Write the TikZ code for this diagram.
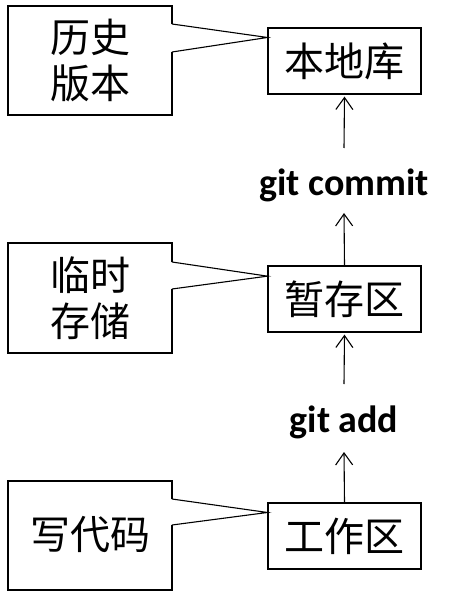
\documentclass[tikz,border=0pt]{standalone}
\usepackage{fontspec}
\setmainfont{Carlito}
\newfontfamily\cjk{Noto Sans CJK SC}
\usetikzlibrary{calc,arrows.meta}
\tikzset{
  stage/.style={draw=black, line width=1.2pt, minimum width=153pt, minimum height=66pt, inner sep=0pt, font=\cjk\fontsize{40}{46}\selectfont},
  note/.style={inner sep=0pt, align=center, font=\cjk\fontsize{40}{46}\selectfont},
  callout/.style={draw=black, line width=1.6pt, line join=miter},
  pointer/.style={draw=black, line width=1.1pt},
  lbl/.style={inner sep=0pt, outer sep=0pt, font=\bfseries\fontsize{38}{44}\selectfont},
  arr/.style={draw=black, line width=1.1pt, -{Straight Barb[length=12pt,width=17pt,line width=1.1pt]}}
}
\begin{document}
\begin{tikzpicture}[x=1pt,y=-1pt]
\useasboundingbox (0,0) rectangle (448,609);
% stages
\node[stage] (bdk) at (344.5,61) {本地库};
\node[stage] (zcq) at (344.5,299) {暂存区};
\node[stage] (gzq) at (344.5,536) {工作区};
% command labels
\node[lbl] (gc) at (344,185) {git commit};
\node[lbl] (ga) at (344,422) {git add};
% arrows
\draw[arr] (zcq.north) -- ($(gc.center)+(0,28)$);
\draw[arr] ($(gc.center)+(0,-37)$) -- ([yshift=-2pt]bdk.south);
\draw[arr] (gzq.north) -- ($(ga.center)+(0,30)$);
\draw[arr] ($(ga.center)+(0,-38)$) -- ([yshift=-2pt]zcq.south);
% callout texts
\node[note] (hist) at (90,60) {历史\\版本};
\node[note] (tmp) at (90,298) {临时\\存储};
\node[note] (code) at (90,535) {写代码};
% callout outlines
\coordinate (t1) at ($(bdk.north west)!0.15!(bdk.south west)$);
\coordinate (t2) at ($(zcq.north west)!0.16!(zcq.south west)$);
\coordinate (t3) at ($(gzq.north west)!0.15!(gzq.south west)$);
\draw[callout] (172,24) -- (172,6) -- (8,6) -- (8,115) -- (172,115) -- (172,52);
\draw[pointer] (172,24) -- (t1) -- (172,52);
\draw[callout] (172,262) -- (172,243) -- (8,243) -- (8,353) -- (172,353) -- (172,289);
\draw[pointer] (172,262) -- (t2) -- (172,289);
\draw[callout] (172,499) -- (172,481) -- (8,481) -- (8,590) -- (172,590) -- (172,525);
\draw[pointer] (172,499) -- (t3) -- (172,525);
\end{tikzpicture}
\end{document}
